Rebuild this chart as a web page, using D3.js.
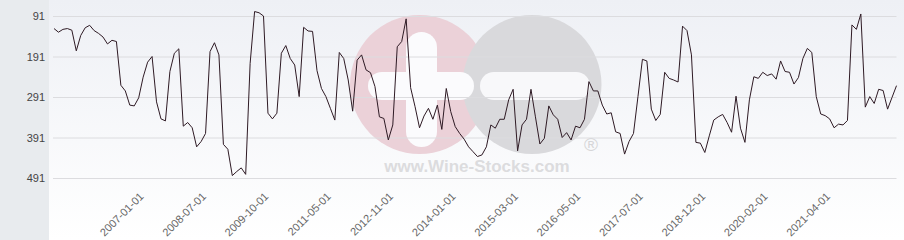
<!DOCTYPE html>
<html>
<head>
<meta charset="utf-8">
<script src="https://cdn.jsdelivr.net/npm/d3@7"></script>
<style>
  html, body { margin: 0; padding: 0; background: #fff; }
  svg { display: block; font-family: "DejaVu Sans", Verdana, sans-serif; }
</style>
</head>
<body>
<div id="chart"></div>
<script>
// rank over time (lower is better, axis reversed)
const ranks = [
  122, 131, 124, 122, 126, 177, 139, 120, 114, 127,
  134, 143, 160, 151, 154, 262, 276, 311, 313, 293,
  242, 205, 191, 303, 345, 350, 228, 183, 172, 363,
  354, 367, 414, 401, 381, 179, 157, 187, 408, 420,
  485, 475, 466, 482, 208, 80, 83, 91, 331, 345,
  331, 183, 164, 196, 212, 290, 119, 128, 129, 226,
  270, 290, 319, 348, 181, 196, 249, 326, 200, 187,
  224, 231, 265, 340, 344, 397, 360, 167, 154, 98,
  268, 315, 367, 338, 319, 346, 311, 371, 270, 327,
  364, 381, 395, 414, 426, 438, 434, 414, 360, 368,
  346, 346, 298, 272, 424, 360, 346, 272, 340, 407,
  393, 313, 335, 346, 391, 379, 397, 363, 367, 346,
  253, 276, 276, 311, 333, 330, 377, 381, 432, 401,
  381, 290, 198, 202, 321, 349, 334, 230, 245, 249,
  254, 116, 127, 187, 403, 405, 428, 387, 348, 340,
  334, 354, 378, 289, 368, 403, 298, 241, 245, 230,
  238, 234, 247, 202, 228, 230, 259, 243, 196, 171,
  181, 290, 333, 337, 345, 367, 358, 360, 349, 113,
  124, 86, 316, 290, 307, 272, 275, 321, 292, 263
];

const yTicks = [91, 191, 291, 391, 491];
const tickIndex = [19, 33, 47, 61, 75, 89, 103, 117, 131, 145, 159, 173];
const tickLabels = [
  '2007-01-01', '2008-07-01', '2009-10-01', '2011-05-01', '2012-11-01', '2014-01-01',
  '2015-03-01', '2016-05-01', '2017-07-01', '2018-12-01', '2020-02-01', '2021-04-01'
];

const config = {
  width: 904,
  height: 240,
  plotLeft: 54,
  plotRight: 896.5,
  panelWidth: 49
};

const svg = d3.select('#chart').append('svg')
  .attr('width', config.width)
  .attr('height', config.height);

const defs = svg.append('defs');
const grad = defs.append('linearGradient')
  .attr('id', 'bg').attr('x1', 0).attr('y1', 0).attr('x2', 0).attr('y2', 1);
grad.append('stop').attr('offset', '0%').attr('stop-color', '#eef0f5');
grad.append('stop').attr('offset', '100%').attr('stop-color', '#ffffff');

// backgrounds
svg.append('rect')
  .attr('x', 0).attr('y', 0)
  .attr('width', config.width).attr('height', config.height)
  .attr('fill', 'url(#bg)');
svg.append('rect')
  .attr('x', 0).attr('y', 0)
  .attr('width', config.panelWidth).attr('height', config.height)
  .attr('fill', '#e8ebee');

// scales
const x = d3.scaleLinear()
  .domain([0, ranks.length - 1])
  .range([config.plotLeft, config.plotRight]);
const y = d3.scaleLinear()
  .domain([91, 491])
  .range([16, 178]);

// watermark
const wm = svg.append('g').attr('class', 'watermark');
wm.append('circle').attr('cx', 419.5).attr('cy', 84.5).attr('r', 69.5).attr('fill', '#ebd1d8');
wm.append('circle').attr('cx', 532).attr('cy', 84.5).attr('r', 69.5).attr('fill', '#d9d9dc');
wm.append('rect').attr('x', 406).attr('y', 32).attr('width', 31).attr('height', 115).attr('rx', 15.5)
  .attr('fill', '#fbfbfd');
wm.append('rect').attr('x', 368).attr('y', 72).attr('width', 106).attr('height', 28).attr('rx', 14)
  .attr('fill', '#fbfbfd');
wm.append('rect').attr('x', 480).attr('y', 72).attr('width', 110).attr('height', 28).attr('rx', 14)
  .attr('fill', '#f8f8fa');
wm.append('text')
  .attr('x', 477).attr('y', 172)
  .attr('text-anchor', 'middle')
  .attr('font-family', '"Liberation Sans", Arial, sans-serif')
  .attr('font-weight', 'bold')
  .attr('font-size', 17)
  .attr('fill', '#dcdcde')
  .text('www.Wine-Stocks.com');
wm.append('text')
  .attr('x', 591).attr('y', 151)
  .attr('text-anchor', 'middle')
  .attr('font-family', '"Liberation Sans", Arial, sans-serif')
  .attr('font-size', 19)
  .attr('fill', '#d6d6d8')
  .text('®');

// y axis with gridlines
const yAxis = svg.append('g')
  .attr('class', 'y axis')
  .attr('transform', `translate(${config.plotLeft - 1},0)`)
  .call(d3.axisLeft(y).tickValues(yTicks)
    .tickSize(-(config.plotRight - config.plotLeft + 1))
    .tickPadding(8));
yAxis.select('.domain').remove();
yAxis.selectAll('line').attr('stroke', '#dcdcdf');
yAxis.selectAll('text')
  .attr('font-size', 11)
  .attr('fill', '#444');

// x axis, rotated labels
const xAxis = svg.append('g')
  .attr('class', 'x axis')
  .attr('transform', 'translate(0,193)')
  .call(d3.axisBottom(x).tickValues(tickIndex)
    .tickFormat((d, i) => tickLabels[i])
    .tickSize(0));
xAxis.select('.domain').remove();
xAxis.selectAll('text')
  .attr('font-size', 11)
  .attr('fill', '#666')
  .attr('text-anchor', 'end')
  .attr('dy', 0)
  .attr('transform', 'translate(3,2) rotate(-45)');

// line
const line = d3.line()
  .x((d, i) => x(i))
  .y(d => y(d));

svg.append('path')
  .datum(ranks)
  .attr('fill', 'none')
  .attr('stroke', '#2e1a24')
  .attr('stroke-width', 1)
  .attr('stroke-linejoin', 'round')
  .attr('d', line);
</script>
</body>
</html>
